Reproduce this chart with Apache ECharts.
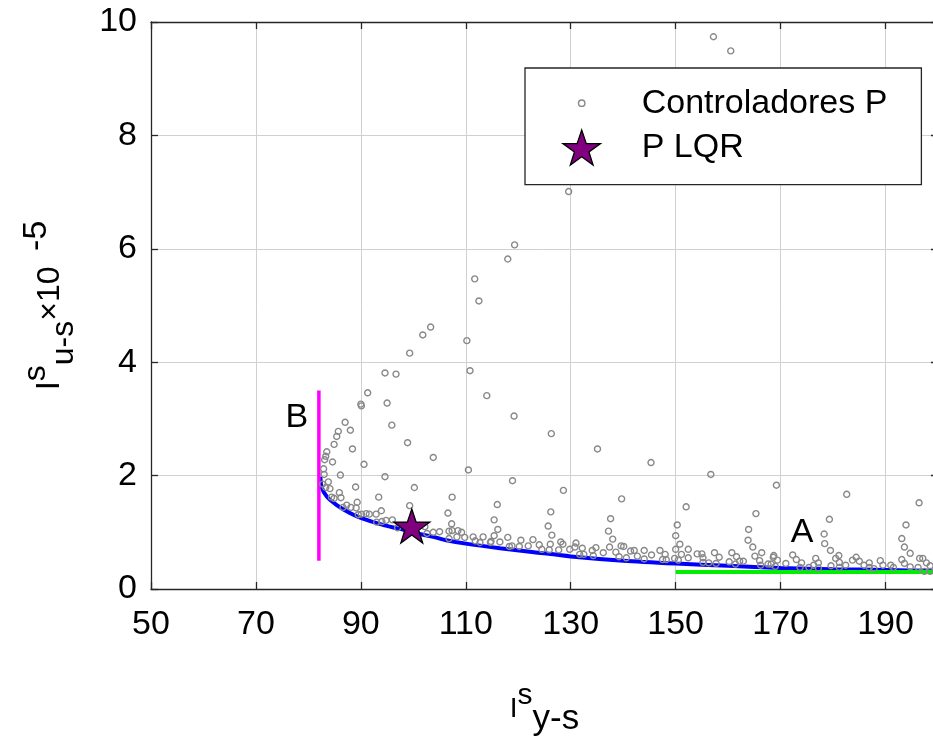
<!DOCTYPE html>
<html><head><meta charset="utf-8">
<script src="https://cdn.jsdelivr.net/npm/echarts@6/dist/echarts.min.js"></script>
<style>html,body{margin:0;padding:0;background:#fff}#c{width:933px;height:736px}</style>
</head><body><div id="c"></div>
<script>
// ---- data ----
const xTickValues = [50, 70, 90, 110, 130, 150, 170, 190];
const yTickValues = [0, 2, 4, 6, 8, 10];
const seriesNames = ['Controladores P', 'P LQR'];

// scattered P controllers [I_y-s, I_u-s x1e-5]
const controllers = [
  [129.6,7.01],[157.2,9.74],[160.5,9.49],[119.3,6.07],[118.0,5.82],[111.7,5.47],[112.5,5.08],
  [103.3,4.62],[101.8,4.48],[99.3,4.16],[110.2,4.38],[110.8,3.85],[114.0,3.41],[94.6,3.81],
  [96.7,3.79],[91.3,3.46],[90.0,3.26],[90.1,3.23],[95.0,3.28],[119.2,3.05],[126.3,2.74],
  [135.1,2.47],[145.3,2.23],[118.9,1.91],[128.6,1.74],[139.7,1.59],[152.0,1.45],[95.9,2.89],
  [98.9,2.58],[103.8,2.32],[90.6,2.20],[94.6,1.98],[100.2,1.79],[110.5,2.10],[93.4,1.62],
  [107.4,1.62],[89.0,1.80],[99.3,1.47],[106.6,1.34],[107.3,1.15],[93.9,1.38],[156.7,2.02],
  [169.2,1.83],[182.6,1.67],[196.4,1.52],[165.3,1.33],[179.3,1.23],[193.9,1.13],
  [87.0,2.94],[85.7,2.78],[88.0,2.80],[85.4,2.69],[84.9,2.55],[88.4,2.47],[83.5,2.42],
  [83.3,2.34],[83.1,2.28],[84.6,2.24],[82.9,2.12],[83.0,2.02],[86.1,2.01],[83.8,1.89],
  [82.7,1.85],[84.1,1.77],[85.9,1.70],[84.4,1.62],[84.9,1.60],[89.3,1.53],[86.6,1.44],
  [87.3,1.48],[88.1,1.44],[89.1,1.43],[89.5,1.31],[90.1,1.32],[91.0,1.33],[91.6,1.32],
  [92.9,1.32],[93.0,1.18],[94.0,1.19],[94.8,1.21],[96.0,1.22],[97.0,1.08],[86.2,1.61],
  [83.3,1.79],[102.2,1.10],[102.6,0.98],[103.8,1.00],[105.0,1.01],[106.8,1.02],[107.4,1.03],
  [108.5,1.03],[109.2,1.00],[106.8,0.89],[108.3,0.92],[109.8,0.91],[111.4,0.92],[111.8,0.85],
  [113.3,0.92],[112.7,0.82],[114.7,0.82],[115.4,0.94],[116.1,1.05],[115.4,1.22],[116.0,1.49],
  [114.8,0.84],[116.5,0.83],[118.0,0.91],[118.3,0.75],[118.8,0.76],[120.5,0.86],[120.2,0.75],
  [121.9,0.76],[122.8,0.87],[124.0,0.78],[124.5,0.70],[125.7,1.11],[126.2,1.36],[126.4,0.95],
  [126.1,0.79],[125.9,0.69],[128.1,0.83],[128.5,0.79],[127.7,0.69],[129.8,0.70],[131.0,0.81],
  [130.8,0.74],[132.2,0.72],[131.7,0.61],[132.5,0.61],[134.1,0.68],[134.8,0.73],[134.3,0.59],
  [136.2,0.64],[137.2,1.02],[137.6,1.24],[138.0,0.88],[137.4,0.74],[138.6,0.65],[139.6,0.76],
  [140.1,0.75],[139.2,0.57],[140.6,0.55],[141.4,0.67],[142.1,0.68],[142.7,0.58],[144.0,0.68],
  [144.0,0.53],[145.4,0.60],[147.0,0.68],[148.0,0.61],[147.5,0.52],[148.2,0.52],[150.0,0.94],
  [150.3,1.13],[150.0,0.70],[149.8,0.54],[150.5,0.51],[150.8,0.79],[151.1,0.61],[152.4,0.70],
  [152.4,0.55],[154.1,0.62],[155.0,0.62],[155.2,0.55],[155.2,0.47],[156.3,0.46],[157.4,0.64],
  [158.3,0.56],[157.7,0.45],[160.2,0.48],[160.7,0.64],[161.6,0.57],[162.2,0.49],[162.9,0.49],
  [161.4,0.44],[163.9,1.05],[163.8,0.86],[164.7,0.74],[165.1,0.58],[166.4,0.64],[166.0,0.50],
  [166.2,0.42],[167.6,0.44],[168.2,0.44],[168.7,0.59],[168.6,0.56],[169.4,0.51],[169.0,0.40],
  [171.0,0.45],[172.3,0.60],[173.0,0.52],[174.0,0.46],[173.7,0.38],[175.4,0.38],[176.3,0.42],
  [176.7,0.54],[177.2,0.46],[177.2,0.37],[178.3,0.97],[178.4,0.80],[179.5,0.68],[179.6,0.41],
  [180.5,0.54],[181.1,0.59],[181.2,0.47],[181.2,0.38],[182.4,0.42],[183.7,0.51],[184.4,0.56],
  [185.0,0.49],[185.9,0.42],[186.9,0.46],[186.9,0.38],[187.8,0.36],[189.0,0.50],[189.5,0.42],
  [191.0,0.42],[191.5,0.38],[193.1,0.89],[193.6,0.74],[193.1,0.52],[193.6,0.45],[194.7,0.63],
  [194.7,0.39],[196.5,0.54],[197.1,0.54],[196.2,0.38],[197.8,0.46],[198.5,0.41],[197.4,0.31],
  [198.5,0.31]
];

// Pareto front (blue)
const paretoX = [82.3, 82.5, 83.5, 85.4, 87.9, 90.1, 94.2, 97.4, 101.2, 103.8, 106.3, 110, 116.5, 123, 130, 140, 150, 160, 170, 180, 190, 200];
const paretoY = [1.98, 1.80, 1.63, 1.48, 1.34, 1.25, 1.13, 1.06, 0.97, 0.92, 0.86, 0.80, 0.72, 0.65, 0.575, 0.50, 0.45, 0.41, 0.37, 0.35, 0.335, 0.32];

// LQR point (star)
const lqrX = [99.7];
const lqrY = [1.11];

// limit lines
const limitBX = [82, 82];
const limitBY = [0.5, 3.5];
const limitAX = [150, 200];
const limitAY = [0.3, 0.3];

// annotations
const noteText = ['B', 'A'];
const noteX = [77.8, 174.1];
const noteY = [3.03, 0.99];

// ---- chart ----
const FONT = "'Liberation Sans', Arial, sans-serif";
const zip = (xs, ys) => xs.map((x, i) => [x, ys[i]]);
const starPath = 'path://M50,0 L61.8,35.1 L98.5,35.1 L68.8,56.7 L79.4,90.5 L50,69.1 L20.6,90.5 L31.2,56.7 L1.5,35.1 L38.2,35.1 Z';
const legendCircle = 'path://M0,0 M110,35 M58.2,17.5 A3.2,3.2 0 1 1 51.8,17.5 A3.2,3.2 0 1 1 58.2,17.5 Z';
const axisCol = '#262626';

const chart = echarts.init(document.getElementById('c'), null, {renderer: 'canvas'});
const baseX = {
  type: 'value', min: 50, max: 200, interval: 20,
  axisLine: {show: true, onZero: false, lineStyle: {color: axisCol, width: 1.3}},
  axisTick: {show: true, inside: true, length: 7, lineStyle: {color: axisCol, width: 1.3}}
};
const baseY = {
  type: 'value', min: 0, max: 10, interval: 2,
  axisLine: {show: true, onZero: false, lineStyle: {color: axisCol, width: 1.3}},
  axisTick: {show: true, inside: true, length: 7, lineStyle: {color: axisCol, width: 1.3}}
};

chart.setOption({
  animation: false,
  backgroundColor: '#fff',
  grid: {left: 151, right: -5, top: 22, bottom: 147, containLabel: false, outerBoundsMode: 'none'},
  xAxis: [
    Object.assign({}, baseX, {
      position: 'bottom',
      axisLabel: {fontSize: 34, color: '#000', fontFamily: FONT, margin: 19, customValues: xTickValues},
      splitLine: {show: true, lineStyle: {color: '#d0d0d0', width: 1}},
      name: '{i|I}{sup|s}{sub|y-s}',
      nameLocation: 'middle', nameGap: 92,
      nameTextStyle: {
        fontFamily: FONT, color: '#000',
        rich: {
          i: {fontSize: 28, lineHeight: 56, fontFamily: FONT, color: '#000'},
          sup: {fontSize: 30, lineHeight: 36, verticalAlign: 'top', fontFamily: FONT, color: '#000'},
          sub: {fontSize: 35, lineHeight: 42, verticalAlign: 'bottom', fontFamily: FONT, color: '#000'}
        }
      }
    }),
    Object.assign({}, baseX, {position: 'top', axisLabel: {show: false}, splitLine: {show: false}})
  ],
  yAxis: [
    Object.assign({}, baseY, {
      position: 'left',
      axisLabel: {fontSize: 34, color: '#000', fontFamily: FONT, margin: 14, customValues: yTickValues},
      splitLine: {show: true, lineStyle: {color: '#d0d0d0', width: 1}},
      name: '{i|I}{sup|s}{sub|u-s}{t|×10}{sp| }{hi|-5}',
      nameLocation: 'middle', nameGap: 71,
      nameTextStyle: {
        fontFamily: FONT, color: '#000',
        rich: {
          i: {fontSize: 33, lineHeight: 60, fontFamily: FONT, color: '#000'},
          t: {fontSize: 32, lineHeight: 60, fontFamily: FONT, color: '#000'},
          sp: {fontSize: 56, lineHeight: 20, fontFamily: FONT, color: '#000'},
          sup: {fontSize: 32, lineHeight: 30, verticalAlign: 'top', fontFamily: FONT, color: '#000'},
          hi: {fontSize: 34, lineHeight: 24, verticalAlign: 'top', fontFamily: FONT, color: '#000'},
          sub: {fontSize: 32, lineHeight: 32, verticalAlign: 'bottom', fontFamily: FONT, color: '#000'}
        }
      }
    }),
    Object.assign({}, baseY, {position: 'right', axisLabel: {show: false}, splitLine: {show: false}})
  ],
  legend: {
    show: true, orient: 'vertical', left: 525, top: 68,
    padding: [17, 34, 19, 1],
    itemWidth: 110, itemHeight: 35, itemGap: 8,
    backgroundColor: '#fff', borderColor: axisCol, borderWidth: 1.3,
    selectedMode: false,
    textStyle: {fontSize: 34, color: '#000', fontFamily: FONT},
    data: [
      {name: seriesNames[0], icon: legendCircle,
       itemStyle: {color: 'rgba(0,0,0,0)', borderColor: '#888', borderWidth: 1.4, opacity: 1}},
      {name: seriesNames[1], icon: starPath,
       itemStyle: {color: '#800080', borderColor: '#000', borderWidth: 1.3, opacity: 1}}
    ]
  },
  series: [
    {
      name: 'frente', type: 'line', data: zip(paretoX, paretoY), smooth: 0.25,
      symbol: 'none', lineStyle: {color: '#0000ff', width: 4}, z: 2
    },
    {
      name: 'B lim', type: 'line', data: zip(limitBX, limitBY),
      symbol: 'none', lineStyle: {color: '#ff00ff', width: 3.5}, z: 2
    },
    {
      name: 'A lim', type: 'line', data: zip(limitAX, limitAY),
      symbol: 'none', lineStyle: {color: '#00ee00', width: 4}, z: 2
    },
    {
      name: seriesNames[0], type: 'scatter', data: controllers,
      symbol: 'circle', symbolSize: 6,
      itemStyle: {color: 'rgba(0,0,0,0)', borderColor: '#888', borderWidth: 1.4, opacity: 1},
      z: 3
    },
    {
      name: seriesNames[1], type: 'scatter', data: zip(lqrX, lqrY),
      symbol: starPath, symbolSize: [36, 34],
      itemStyle: {color: '#800080', borderColor: '#000', borderWidth: 1.3, opacity: 1},
      z: 4
    },
    {
      name: 'notes', type: 'scatter',
      data: noteX.map((x, i) => ({value: [x, noteY[i]], label: {formatter: noteText[i]}})),
      symbolSize: 1, itemStyle: {color: 'rgba(0,0,0,0)', opacity: 1},
      label: {show: true, position: 'inside', fontSize: 34, color: '#000', fontFamily: FONT, textBorderWidth: 0},
      z: 5
    }
  ]
});
</script>
</body></html>
